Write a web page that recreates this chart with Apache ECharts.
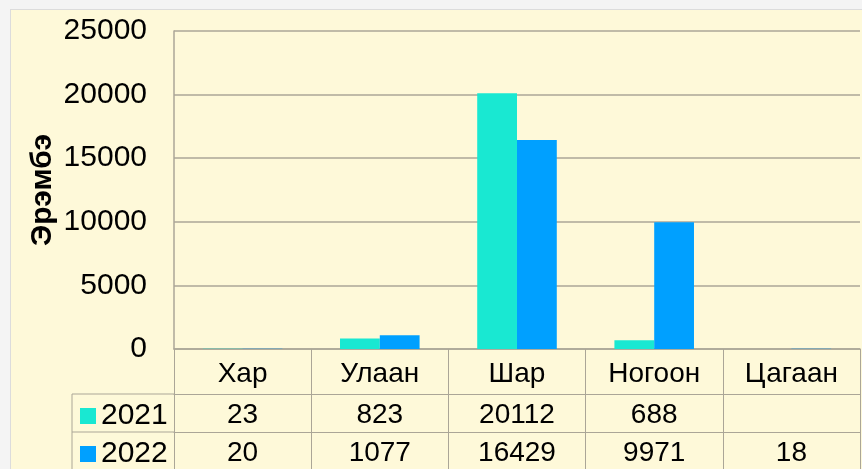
<!DOCTYPE html>
<html>
<head>
<meta charset="utf-8">
<script src="https://cdn.jsdelivr.net/npm/echarts@6/dist/echarts.min.js"></script>
<style>
	html, body { margin: 0; padding: 0; background: #f4f4f4; }
	#wrap {
		position: absolute; left: 10px; top: 9px; width: 851px; height: 459px;
		background: #fef9d9; border-left: 1px solid #dcdcdc; border-top: 1px solid #dcdcdc;
	}
	#main { width: 851px; height: 459px; }
</style>
</head>
<body>
<div id="wrap"><div id="main"></div></div>
<script>
// данные
const categories = ['Хар', 'Улаан', 'Шар', 'Ногоон', 'Цагаан']
const years = ['2021', '2022']
const values2021 = [23, 823, 20112, 688, null]
const values2022 = [20, 1077, 16429, 9971, 18]
const yTicks = [0, 5000, 10000, 15000, 20000, 25000]

const font = 'Liberation Sans, Arial, sans-serif'
const lineColor = '#aba697'
const toCell = (v) => v == null ? '' : String(v)

// легенда в левой колонке таблицы
const legendRow = (name, top) => ({
	data: [name],
	left: 69,
	top: top,
	padding: 0,
	itemWidth: 16,
	itemHeight: 16,
	icon: 'rect',
	textStyle: { fontSize: 30, color: '#000', fontFamily: font }
})

const chart = echarts.init(document.getElementById('main'))
const option = {
	animation: false,
	color: ['#19e8d2', '#00a0ff'],
	textStyle: { fontFamily: font },
	grid: { left: 163, right: 2, top: 21, bottom: 120 },
	legend: [legendRow(years[0], 391), legendRow(years[1], 429)],
	xAxis: [
		{
			type: 'category',
			data: categories,
			axisLine: { lineStyle: { color: lineColor, width: 1.5 } },
			axisTick: { show: true, interval: 0, length: 120, lineStyle: { color: lineColor } },
			axisLabel: { color: '#000', fontSize: 28, margin: 11, interval: 0 }
		},
		{
			type: 'category',
			position: 'bottom',
			offset: 45,
			data: values2021.map(toCell),
			axisLine: { lineStyle: { color: lineColor } },
			axisTick: { show: false },
			axisLabel: { color: '#000', fontSize: 28, margin: 7, interval: 0 }
		},
		{
			type: 'category',
			position: 'bottom',
			offset: 83,
			data: values2022.map(toCell),
			axisLine: { lineStyle: { color: lineColor } },
			axisTick: { show: false },
			axisLabel: { color: '#000', fontSize: 28, margin: 7, interval: 0 }
		}
	],
	yAxis: {
		type: 'value',
		min: yTicks[0],
		max: yTicks[yTicks.length - 1],
		interval: yTicks[1] - yTicks[0],
		name: 'Эрэмбэ',
		nameLocation: 'middle',
		nameRotate: 90,
		nameGap: 116,
		nameMoveOverlap: false,
		nameTextStyle: { fontSize: 30, fontWeight: 'bold', color: '#000', fontFamily: font },
		axisLine: { show: true, lineStyle: { color: lineColor, width: 1.5 } },
		axisTick: { show: false },
		axisLabel: { color: '#000', fontSize: 30, margin: 27, formatter: (v) => String(v) },
		splitLine: { lineStyle: { color: lineColor, width: 1.5 } }
	},
	graphic: [
		{ type: 'line', shape: { x1: 61, y1: 384, x2: 163, y2: 384 }, style: { stroke: lineColor, lineWidth: 1 } },
		{ type: 'line', shape: { x1: 61, y1: 422, x2: 163, y2: 422 }, style: { stroke: lineColor, lineWidth: 1 } },
		{ type: 'line', shape: { x1: 61, y1: 384, x2: 61, y2: 459 }, style: { stroke: lineColor, lineWidth: 1 } }
	],
	series: [
		{ name: years[0], type: 'bar', data: values2021, barGap: 0, barCategoryGap: '42%' },
		{ name: years[1], type: 'bar', data: values2022, barGap: 0, barCategoryGap: '42%' }
	]
}

option && chart.setOption(option)
</script>
</body>
</html>
